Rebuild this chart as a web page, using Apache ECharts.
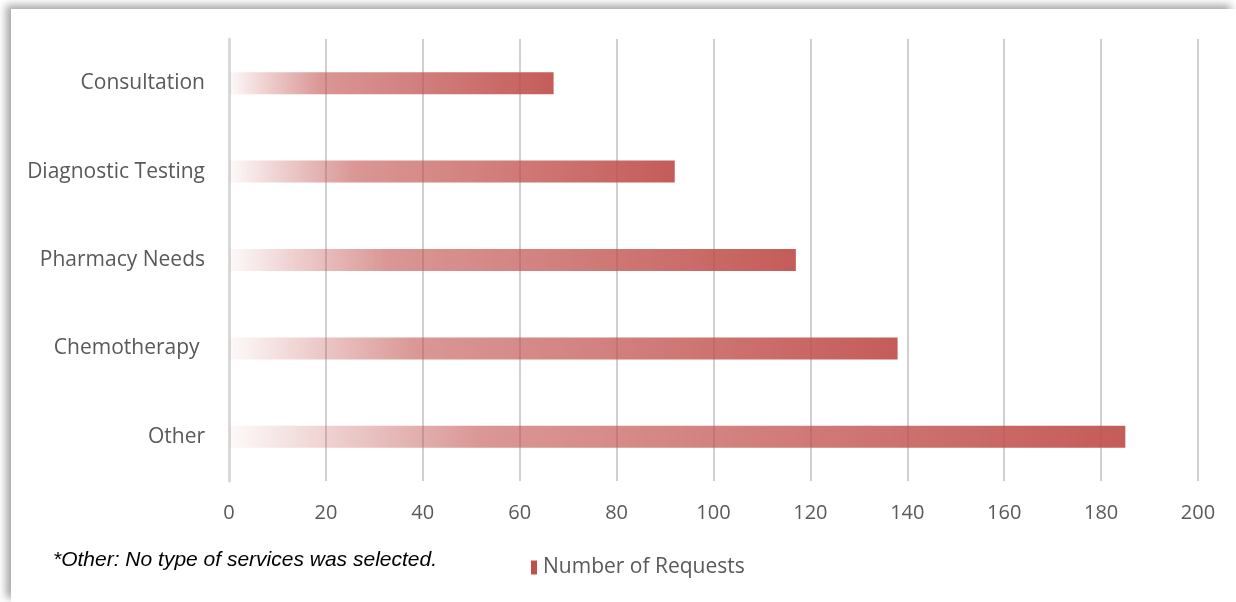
<!DOCTYPE html>
<html>
<head>
<meta charset="utf-8">
<script src="https://cdn.jsdelivr.net/npm/echarts@6/dist/echarts.min.js"></script>
<style>
  html, body { margin: 0; padding: 0; background: #ffffff; width: 1236px; height: 602px; overflow: hidden; }
  .frame {
    position: absolute; left: 11px; top: 9px; width: 1225px; height: 593px;
    background: #ffffff;
    box-shadow: -5px -4px 8px rgba(0, 0, 0, 0.35);
  }
  #chart { width: 100%; height: 100%; }
</style>
</head>
<body>
<div class="frame"><div id="chart"></div></div>
<script>
// Data (bottom to top as drawn on the category axis)
const categories = ['Other', 'Chemotherapy ', 'Pharmacy Needs', 'Diagnostic Testing', 'Consultation']
const requests = [185, 138, 117, 92, 67]
const seriesName = 'Number of Requests'
const footnote = '*Other: No type of services was selected.'

const textFont = '"Open Sans", "Noto Sans", sans-serif'
const barRed = '#c0504d'

const barGradient = new echarts.graphic.LinearGradient(0, 0, 1, 0, [
  { offset: 0, color: 'rgba(192,80,77,0.03)' },
  { offset: 0.12, color: 'rgba(192,80,77,0.3)' },
  { offset: 0.28, color: 'rgba(192,80,77,0.64)' },
  { offset: 0.55, color: 'rgba(192,80,77,0.77)' },
  { offset: 1, color: 'rgba(192,80,77,1)' }
])

const chart = echarts.init(document.getElementById('chart'))

chart.setOption({
  animation: false,
  title: {
    text: footnote,
    left: 42,
    top: 541,
    padding: 0,
    textStyle: {
      fontFamily: '"Liberation Sans", Arial, sans-serif',
      fontStyle: 'italic',
      fontWeight: 'normal',
      fontSize: 21,
      color: '#000000'
    }
  },
  legend: {
    data: [seriesName],
    left: 520,
    top: 548,
    padding: 0,
    icon: 'rect',
    itemWidth: 6,
    itemHeight: 14,
    itemGap: 6,
    itemStyle: { color: barRed, opacity: 1 },
    textStyle: { fontFamily: textFont, fontSize: 21, color: '#595959', padding: [0, 0, 0, 1] }
  },
  grid: {
    left: 218,
    right: 38,
    top: 30,
    bottom: 121
  },
  xAxis: {
    type: 'value',
    min: 0,
    max: 200,
    interval: 20,
    axisLine: { show: false },
    axisTick: { show: false },
    axisLabel: { fontFamily: textFont, fontSize: 20, color: '#595959', margin: 22 },
    splitLine: { lineStyle: { color: '#d0d0d0', width: 2 } }
  },
  yAxis: {
    type: 'category',
    data: categories,
    axisLine: { show: true, lineStyle: { color: '#d9d9d9', width: 3 } },
    axisTick: { show: false },
    axisLabel: { fontFamily: textFont, fontSize: 21, color: '#595959', margin: 24 }
  },
  series: [
    {
      name: seriesName,
      type: 'bar',
      data: requests,
      barWidth: 22,
      itemStyle: { color: barGradient, opacity: 0.93 }
    }
  ]
})
</script>
</body>
</html>
